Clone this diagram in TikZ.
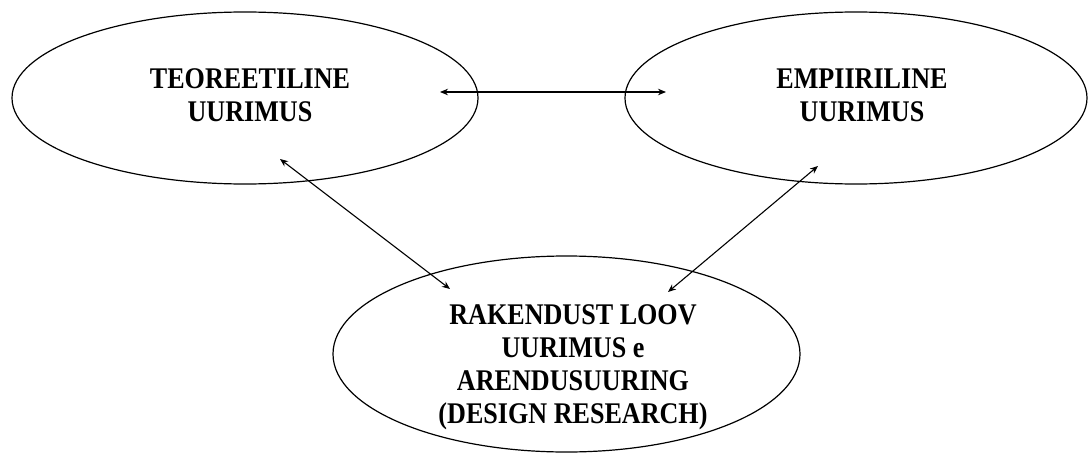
\documentclass[tikz,border=0pt]{standalone}
\usepackage{fontspec}
\setmainfont{Liberation Serif}[FakeStretch=0.87]
\usetikzlibrary{shapes.geometric,arrows.meta}
\begin{document}
\begin{tikzpicture}[x=1pt,y=-1pt,
  oval/.style={draw, ellipse, line width=1.2pt, inner sep=0pt},
  lbl/.style={align=center, inner sep=0pt, font=\bfseries\fontsize{30}{33}\selectfont},
  arr/.style={{Stealth[length=8pt,width=6.5pt]}-{Stealth[length=8pt,width=6.5pt]}, line width=1.1pt}]
\useasboundingbox[fill=white] (0,0) rectangle (1090,455);
% ellipses
\node[oval, minimum width=466pt, minimum height=172pt] (teo) at (245,98) {};
\node[oval, minimum width=462pt, minimum height=172pt] (emp) at (856,98) {};
\node[oval, minimum width=467pt, minimum height=196pt] (rak) at (566.5,354) {};
% labels
\node[lbl] (teoT) at (250,95) {TEOREETILINE\\UURIMUS};
\node[lbl] (empT) at (862,95) {EMPIIRILINE\\UURIMUS};
\node[lbl] (rakT) at (573,367) {RAKENDUST LOOV\\UURIMUS e\\ARENDUSUURING\\(DESIGN RESEARCH)};
% connector ends
\coordinate (h1) at (440,92);
\coordinate (h2) at (666,92);
\coordinate (d1) at (280,159);
\coordinate (d2) at (450,289);
\coordinate (e1) at (818,166);
\coordinate (e2) at (668,292);
\draw[arr] (h1) -- (h2);
\draw[arr] (d1) -- (d2);
\draw[arr] (e1) -- (e2);
\end{tikzpicture}
\end{document}
